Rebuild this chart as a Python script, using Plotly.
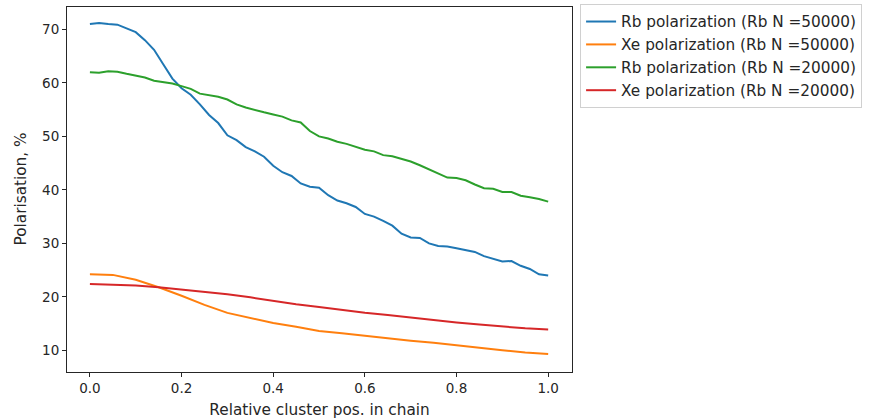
import plotly.graph_objects as go

# Relative position of a cluster along the chain
x_rb = [round(i * 0.02, 2) for i in range(51)]
x_xe = [round(i * 0.05, 2) for i in range(21)]

rb_pol_50000 = [71.0, 71.2, 71.0, 70.9, 70.2, 69.5, 68.0, 66.2, 63.5, 60.8,
                59.0, 57.8, 56.0, 54.0, 52.5, 50.2, 49.3, 48.0, 47.2, 46.2,
                44.5, 43.3, 42.6, 41.2, 40.6, 40.4, 39.0, 38.0, 37.5, 36.8,
                35.5, 35.0, 34.2, 33.3, 31.8, 31.1, 31.0, 30.0, 29.5, 29.4,
                29.1, 28.8, 28.4, 27.6, 27.1, 26.6, 26.7, 25.8, 25.2, 24.2,
                24.0]
rb_pol_20000 = [62.0, 61.9, 62.2, 62.1, 61.7, 61.3, 61.0, 60.4, 60.1, 59.9,
                59.4, 58.9, 58.0, 57.7, 57.4, 56.9, 56.0, 55.4, 54.9, 54.5,
                54.1, 53.7, 53.0, 52.6, 51.0, 50.0, 49.6, 49.0, 48.6, 48.0,
                47.5, 47.2, 46.5, 46.3, 45.8, 45.3, 44.6, 43.8, 43.0, 42.3,
                42.2, 41.8, 41.0, 40.3, 40.2, 39.6, 39.6, 38.9, 38.6, 38.3,
                37.8]
xe_pol_50000 = [24.2, 24.1, 23.2, 21.8, 20.2, 18.5, 17.0, 16.0, 15.1, 14.4,
                13.6, 13.2, 12.7, 12.2, 11.8, 11.4, 10.9, 10.5, 10.0, 9.6, 9.3]
xe_pol_20000 = [22.4, 22.3, 22.1, 21.8, 21.4, 21.0, 20.5, 19.9, 19.2, 18.6,
                18.1, 17.5, 17.0, 16.6, 16.1, 15.6, 15.2, 14.8, 14.4, 14.1, 13.9]

series = [
    ("Rb polarization (Rb N =50000)", x_rb, rb_pol_50000, "#1f77b4"),
    ("Xe polarization (Rb N =50000)", x_xe, xe_pol_50000, "#ff7f0e"),
    ("Rb polarization (Rb N =20000)", x_rb, rb_pol_20000, "#2ca02c"),
    ("Xe polarization (Rb N =20000)", x_xe, xe_pol_20000, "#d62728"),
]

fig = go.Figure()
for name, xs, ys, color in series:
    fig.add_trace(go.Scatter(x=xs, y=ys, mode="lines", name=name,
                             line=dict(color=color, width=2)))

tick_font = dict(family="DejaVu Sans", size=13.5, color="#262626")
label_font = dict(family="DejaVu Sans", size=15.3, color="#262626")
axis_common = dict(showline=True, linecolor="#262626", linewidth=1, mirror=True,
                   ticks="outside", ticklen=4, tickcolor="#262626", tickwidth=1,
                   showgrid=False, zeroline=False, tickfont=tick_font,
                   automargin=False)

fig.update_layout(
    width=869, height=420,
    margin=dict(l=67, r=297, t=7, b=48, autoexpand=False),
    paper_bgcolor="white", plot_bgcolor="white",
    font=label_font,
    showlegend=True,
    legend=dict(x=1.016, y=1.008, xanchor="left", yanchor="top",
                bordercolor="#d0d0d0", borderwidth=1, font=label_font,
                bgcolor="white"),
    xaxis=dict(range=[-0.05, 1.052], tickvals=[0, 0.2, 0.4, 0.6, 0.8, 1.0],
               tickformat=".1f",
               title=dict(text="Relative cluster pos. in chain", font=label_font, standoff=9),
               **axis_common),
    yaxis=dict(range=[5.94, 74.2], tickvals=[10, 20, 30, 40, 50, 60, 70],
               **axis_common),
)

# Vertical y-axis label placed close to the tick labels
fig.add_annotation(text="Polarisation, %", xref="paper", yref="paper",
                   x=-0.093, y=0.5, xanchor="center", yanchor="middle",
                   textangle=-90, showarrow=False, font=label_font)

fig.write_html("out.html")
